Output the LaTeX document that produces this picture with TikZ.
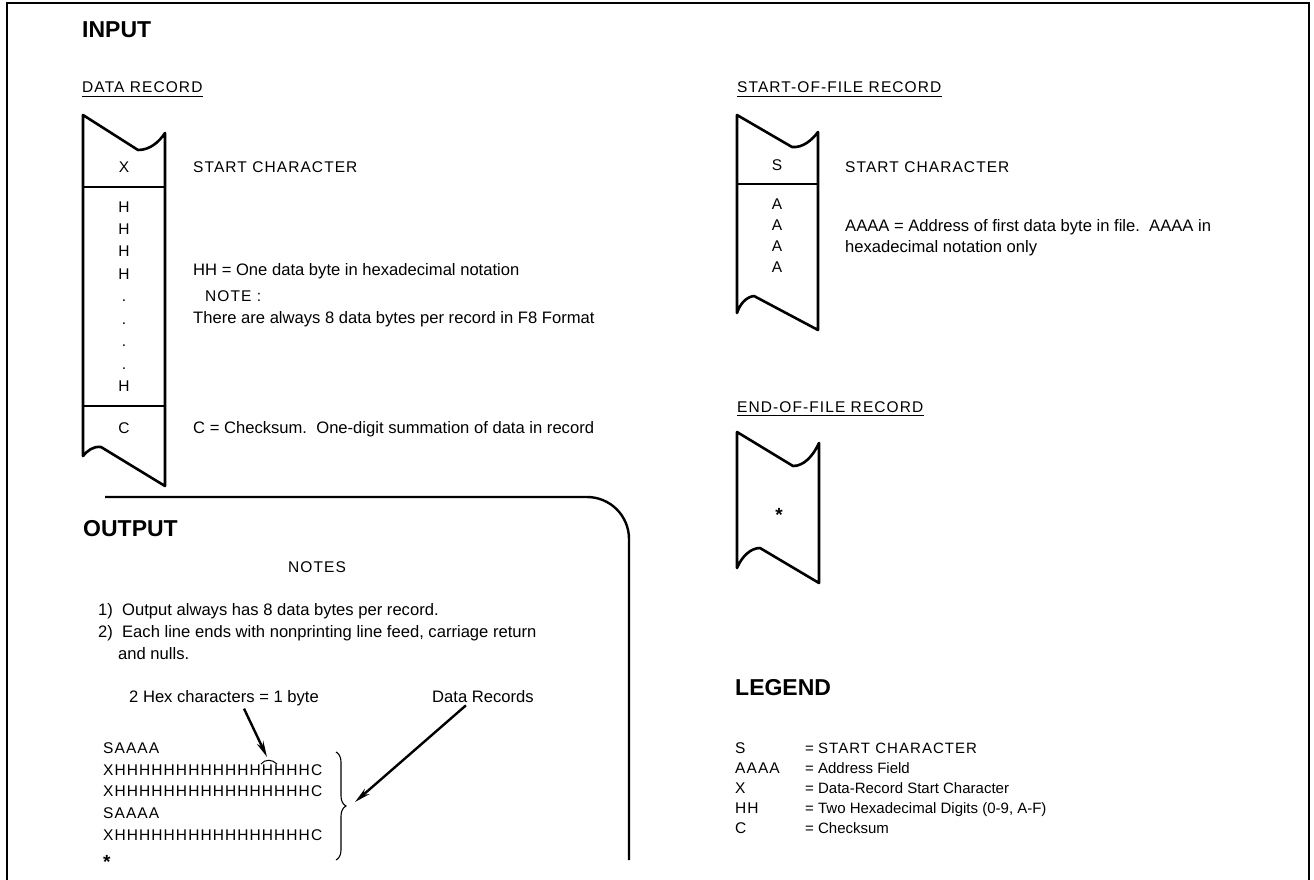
\documentclass[tikz,border=0pt]{standalone}
\usepackage{fontspec}
\setmainfont{Liberation Sans}
\newfontfamily\capsfont[LetterSpace=7]{Liberation Sans}
\usetikzlibrary{arrows.meta,decorations.pathreplacing}
\begin{document}
\begin{tikzpicture}[x=1pt, y=-1pt, >={Stealth[length=16pt,width=7pt]},
  txt/.style={anchor=base west, inner sep=0pt, font=\fontsize{16.6}{19}\selectfont},
  legtxt/.style={txt, font=\fontsize{15}{18}\selectfont},
  captxt/.style={txt, font=\fontsize{15.5}{18}\capsfont},
  midtxt/.style={captxt, anchor=base},
  head/.style={anchor=base west, inner sep=0pt, font=\fontsize{23}{27}\selectfont\bfseries},
  eofstar/.style={anchor=base, inner sep=0pt, font=\fontsize{19}{19}\selectfont\bfseries},
  tape/.style={line width=2.6pt, line join=round},
  uline/.style={line width=1.3pt}]
\useasboundingbox (0,0) rectangle (1314,880);
\draw[line width=1.6pt] (7,880) -- (7,3) -- (1309,3) -- (1309,880);

\node[head] (input) at (82,38) {INPUT};
\node[captxt] (datarec) at (82,93) {DATA RECORD};
\draw[uline] ([yshift=-3pt]datarec.south west) -- ([yshift=-3pt]datarec.south east);
\draw[tape] (83,115) -- (138,150) .. controls (150,150) and (159,142) .. (165,133) -- (165,486) -- (101,447) .. controls (93,446) and (87,451) .. (83,456) -- cycle;
\draw[tape] (83,187) -- (165,187) (83,406) -- (165,406);
\node[midtxt] (dx) at (124,172) {X};
\foreach \y [count=\i] in {207,229,251,274} \node[midtxt] (dh\i) at (124,\y+5) {H};
\foreach \y [count=\i] in {300,323,345,368} \node[midtxt] (dd\i) at (124,\y+1) {.};
\node[midtxt] (dhlast) at (124,391) {H};
\node[midtxt] (dc) at (124,433) {C};
\node[captxt] (dstart) at (193,172) {START CHARACTER};
\node[txt] (hhnote) at (193,275) {HH = One data byte in hexadecimal notation};
\node[captxt] (note) at (205,301) {NOTE :};
\node[txt] (always) at (193,323) {There are always 8 data bytes per record in F8 Format};
\node[txt] (csum) at (193,433) {C = Checksum.\ \ One-digit summation of data in record};

\draw[line width=2.4pt, rounded corners=42pt] (105,497) -- (629,497) -- (629,860);
\node[head] (output) at (83,536) {OUTPUT};
\node[midtxt] (notes) at (317,572) {NOTES};
\node[txt] (n1) at (98,615) {1)\ \ Output always has 8 data bytes per record.};
\node[txt] (n2) at (98,637) {2)\ \ Each line ends with nonprinting line feed, carriage return};
\node[txt] (n2b) at (118,659) {and nulls.};
\node[txt] (hexnote) at (129,702) {2 Hex characters = 1 byte};
\node[txt] (recnote) at (432,702) {Data Records};
\foreach \t/\y [count=\i] in {SAAAA/753, XHHHHHHHHHHHHHHHHC/775, XHHHHHHHHHHHHHHHHC/796, SAAAA/818, XHHHHHHHHHHHHHHHHC/840}
  \node[captxt] (line\i) at (103,\y) {\t};
\node[eofstar, anchor=base west] (endmark) at (103,868) {*};
\draw[line width=1pt] (261,764) .. controls (265,759) and (272,759) .. (277,764);
\coordinate (tilde) at (267,757);
\coordinate (bracetip) at (355,802);
\draw[decorate, decoration={brace, amplitude=10pt}, line width=1.1pt] (336,752) -- (336,860);
\draw[->, line width=2.4pt] ([xshift=20pt,yshift=-3pt]hexnote.south) -- (tilde);
\draw[->, line width=2.4pt] ([xshift=-17pt,yshift=-3pt]recnote.south) -- (bracetip);

\node[captxt] (sofrec) at (737,93) {START-OF-FILE RECORD};
\draw[uline] ([yshift=-3pt]sofrec.south west) -- ([yshift=-3pt]sofrec.south east);
\draw[tape] (737,115) -- (792,147) .. controls (803,148) and (812,140) .. (818,132) -- (818,330) -- (754,296) .. controls (746,297) and (740,304) .. (737,313) -- cycle;
\draw[tape] (737,184) -- (818,184);
\node[midtxt] (ss) at (777,171) {S};
\foreach \y [count=\i] in {204,225,246,267} \node[midtxt] (sa\i) at (777,\y+5) {A};
\node[captxt] (sstart) at (845,172) {START CHARACTER};
\node[txt] (addr) at (845,231) {AAAA = Address of first data byte in file.\ \ AAAA in};
\node[txt] (addrb) at (845,252) {hexadecimal notation only};

\node[captxt] (eofrec) at (737,412) {END-OF-FILE RECORD};
\draw[uline] ([yshift=-3pt]eofrec.south west) -- ([yshift=-3pt]eofrec.south east);
\draw[tape] (737,432) -- (793,466) .. controls (804,466) and (813,456) .. (819,443) -- (819,583) -- (760,548) .. controls (751,548) and (742,556) .. (737,568) -- cycle;
\node[eofstar] (eofs) at (779,521) {*};

\node[head] (legend) at (735,695) {LEGEND};
\foreach \k/\v [count=\i] in {S/{\capsfont START CHARACTER}, AAAA/Address Field, X/Data-Record Start Character, HH/{Two Hexadecimal Digits (0-9, A-F)}, C/Checksum} {
  \node[captxt] (key\i) at (735,733+20*\i) {\k};
  \node[legtxt] (val\i) at (805,733+20*\i) {= \v};
}
\end{tikzpicture}
\end{document}
